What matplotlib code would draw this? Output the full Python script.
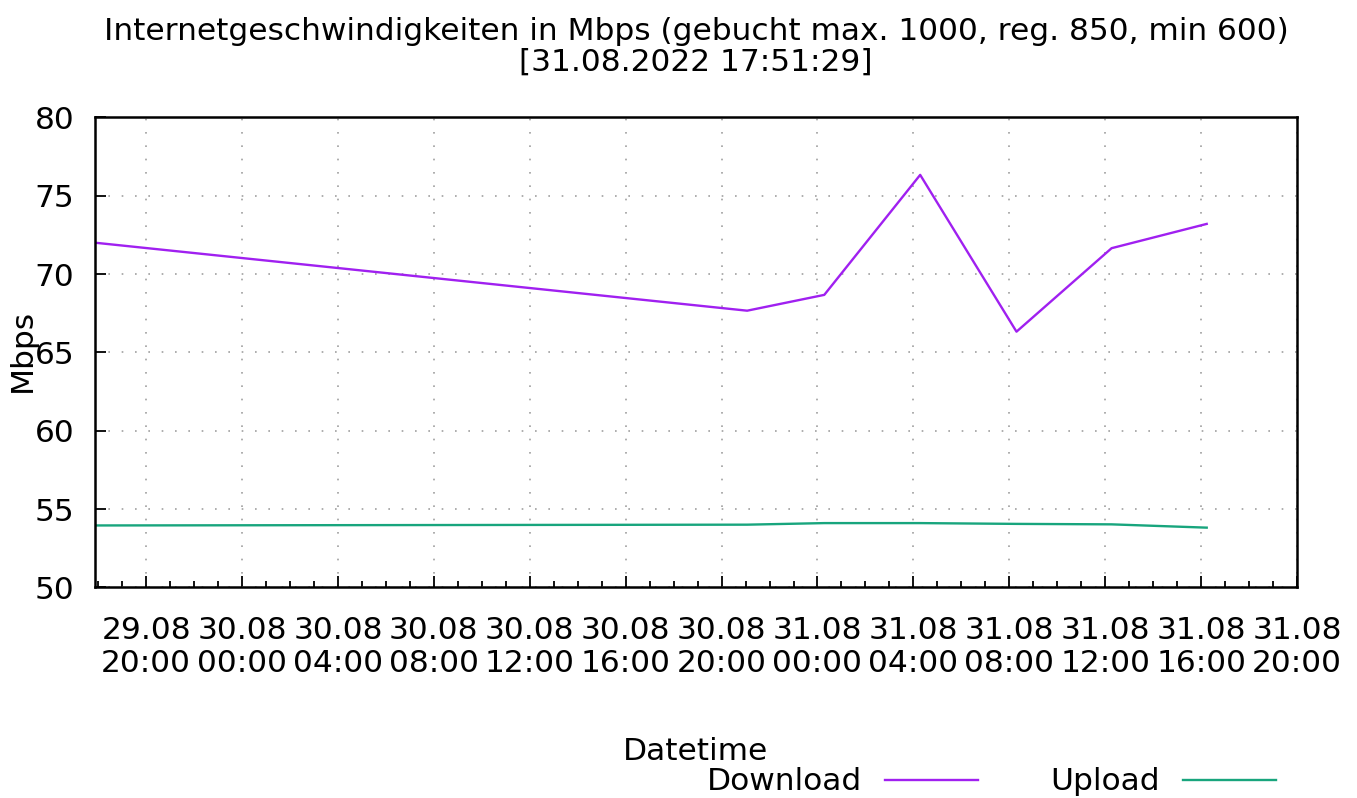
import numpy as np
import pandas as pd
import matplotlib
matplotlib.use("Agg")
import matplotlib.pyplot as plt
import matplotlib.dates as mdates
from matplotlib.ticker import MultipleLocator

# Messzeitpunkte und Werte
zeiten = ["2022-08-29 17:52", "2022-08-30 21:04", "2022-08-31 00:17",
          "2022-08-31 04:17", "2022-08-31 08:18", "2022-08-31 12:16",
          "2022-08-31 16:14"]
download = [72.0, 67.66, 68.67, 76.33, 66.32, 71.65, 73.2]
upload = [53.95, 54.0, 54.1, 54.1, 54.05, 54.02, 53.81]

titel = "Internetgeschwindigkeiten in Mbps (gebucht max. 1000, reg. 850, min 600)\n[31.08.2022 17:51:29]"

t = pd.to_datetime(zeiten)
fs = 22.5

fig = plt.figure(figsize=(13.57, 7.98), dpi=100)
ax = fig.add_axes([0.070, 0.2640, 0.8858, 0.5889])

ax.plot(t, download, color="#a020f0", lw=1.7, label="Download")
ax.plot(t, upload, color="#18a57d", lw=1.7, label="Upload")

ax.set_xlim(pd.Timestamp("2022-08-29 17:52"), pd.Timestamp("2022-08-31 20:00"))
ax.set_ylim(50, 80)

ax.xaxis.set_major_locator(mdates.HourLocator(byhour=[0, 4, 8, 12, 16, 20]))
ax.xaxis.set_minor_locator(mdates.HourLocator())
ax.xaxis.set_major_formatter(mdates.DateFormatter("%d.%m\n%H:%M"))
ax.yaxis.set_major_locator(MultipleLocator(5))

ax.tick_params(axis="x", which="major", direction="in", length=8, width=1.3,
               pad=21, labelsize=fs, top=False)
ax.tick_params(axis="x", which="minor", direction="in", length=4, width=1.3, top=False)
ax.tick_params(axis="y", which="major", direction="in", length=8, width=1.3,
               pad=15, labelsize=fs, right=False)
for lab in ax.get_xticklabels():
    lab.set_linespacing(1.14)

ax.grid(True, which="major", color="#a0a0a0", linestyle=(0, (1, 7)), lw=1.2)
for s in ax.spines.values():
    s.set_linewidth(1.8)

fig.text(696 / 1357, 1 - 47 / 798, titel, ha="center", va="center", fontsize=fs,
         linespacing=1.1)
fig.text(22 / 1357, 1 - 350 / 798, "Mbps", rotation=90, ha="center", va="center",
         fontsize=fs)
fig.text(695 / 1357, 1 - 752 / 798, "Datetime", ha="center", va="center", fontsize=fs)

fig.legend(loc="center right", bbox_to_anchor=(1276 / 1357, 1 - 782 / 798),
           ncol=2, frameon=False, markerfirst=False, fontsize=fs,
           handlelength=2.98, handletextpad=0.74, columnspacing=2.3,
           borderpad=0, borderaxespad=0)

fig.savefig("out.png", dpi=100)
